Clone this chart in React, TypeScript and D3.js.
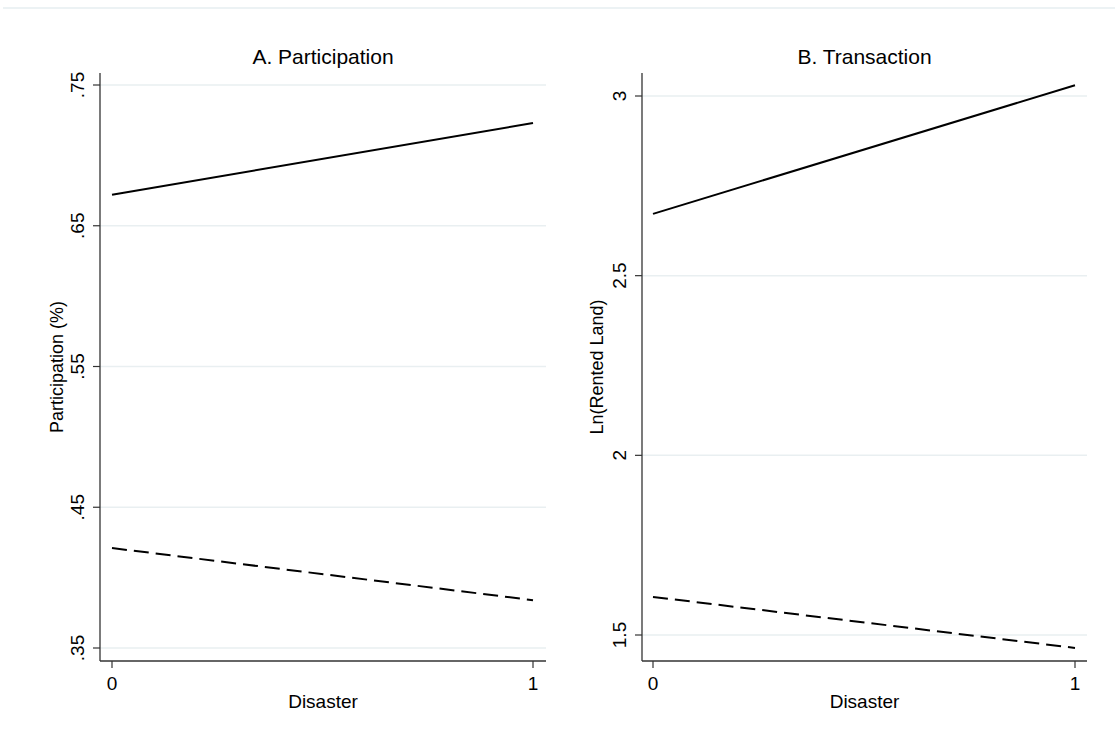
import * as d3 from "d3";

const disaster: number[] = [0, 1];

// Panel A: participation
const partSolid: number[] = [0.672, 0.723];
const partDashed: number[] = [0.421, 0.384];
const partTicks: number[] = [0.35, 0.45, 0.55, 0.65, 0.75];
const partTickLabels: string[] = [".35", ".45", ".55", ".65", ".75"];

// Panel B: transaction
const transSolid: number[] = [2.672, 3.03];
const transDashed: number[] = [1.606, 1.464];
const transTicks: number[] = [1.5, 2, 2.5, 3];
const transTickLabels: string[] = ["1.5", "2", "2.5", "3"];

const FONT = "'Liberation Sans', Arial, sans-serif";

type PanelProps = {
    title: string;
    yTitle: string;
    left: number;
    right: number;
    x0px: number;
    x1px: number;
    yDomain: [number, number];
    yRange: [number, number];
    ticks: number[];
    tickLabels: string[];
    solid: number[];
    dashed: number[];
    yTitleX: number;
};

function Panel(p: PanelProps) {
    const top = 73;
    const bottom = 661;
    const xScale = d3.scaleLinear().domain([0, 1]).range([p.x0px, p.x1px]);
    const yScale = d3.scaleLinear().domain(p.yDomain).range(p.yRange);
    const line = d3.line<[number, number]>()
        .x(d => xScale(d[0]))
        .y(d => yScale(d[1]));
    const solidPts = disaster.map((d, i) => [d, p.solid[i]] as [number, number]);
    const dashedPts = disaster.map((d, i) => [d, p.dashed[i]] as [number, number]);
    const cx = (p.left + p.right) / 2;

    return (
        <g>
            {/* gridlines */}
            {p.ticks.map(t => (
                <line key={"g" + t} x1={p.left} x2={p.right} y1={yScale(t)} y2={yScale(t)}
                    stroke="#e9eff1" strokeWidth={1.5} />
            ))}
            {/* axes */}
            <line x1={p.left} x2={p.left} y1={top} y2={bottom} stroke="#333" strokeWidth={1.3} />
            <line x1={p.left} x2={p.right} y1={bottom} y2={bottom} stroke="#333" strokeWidth={1.3} />
            {p.ticks.map((t, i) => {
                const y = yScale(t);
                return (
                    <g key={"t" + t}>
                        <line x1={p.left - 7} x2={p.left} y1={y} y2={y} stroke="#333" strokeWidth={1.2} />
                        <text transform={`translate(${p.left - 16},${y}) rotate(-90)`} textAnchor="middle"
                            fontFamily={FONT} fontSize={19} fill="#000">{p.tickLabels[i]}</text>
                    </g>
                );
            })}
            {disaster.map(d => (
                <g key={"x" + d}>
                    <line x1={xScale(d)} x2={xScale(d)} y1={bottom} y2={bottom + 7} stroke="#333" strokeWidth={1.2} />
                    <text x={xScale(d)} y={bottom + 29} textAnchor="middle" fontFamily={FONT} fontSize={19}
                        fill="#000">{d}</text>
                </g>
            ))}
            {/* lines */}
            <path d={line(solidPts) || ""} fill="none" stroke="#000" strokeWidth={2} />
            <path d={line(dashedPts) || ""} fill="none" stroke="#000" strokeWidth={2} strokeDasharray="15,7" />
            {/* titles */}
            <text x={cx} y={64} textAnchor="middle" fontFamily={FONT} fontSize={21} fill="#000">{p.title}</text>
            <text x={cx} y={708} textAnchor="middle" fontFamily={FONT} fontSize={19} fill="#000">Disaster</text>
            <text transform={`translate(${p.yTitleX},${367}) rotate(-90)`} textAnchor="middle"
                fontFamily={FONT} fontSize={18} fill="#000">{p.yTitle}</text>
        </g>
    );
}

export default function App() {
    return (
        <svg width={1115} height={745} style={{ position: "absolute", left: 0, top: 0, background: "#fff" }}>
            <rect x={0} y={0} width={1115} height={745} fill="#fff" />
            <line x1={3} x2={1115} y1={8} y2={8} stroke="#e6eef0" strokeWidth={1.5} />
            <Panel title="A. Participation" yTitle="Participation (%)" left={100} right={546}
                x0px={112} x1px={533} yDomain={[0.35, 0.75]} yRange={[648, 85]}
                ticks={partTicks} tickLabels={partTickLabels} solid={partSolid} dashed={partDashed}
                yTitleX={63} />
            <Panel title="B. Transaction" yTitle="Ln(Rented Land)" left={642} right={1087}
                x0px={653} x1px={1075} yDomain={[1.5, 3]} yRange={[635, 96]}
                ticks={transTicks} tickLabels={transTickLabels} solid={transSolid} dashed={transDashed}
                yTitleX={603} />
        </svg>
    );
}
